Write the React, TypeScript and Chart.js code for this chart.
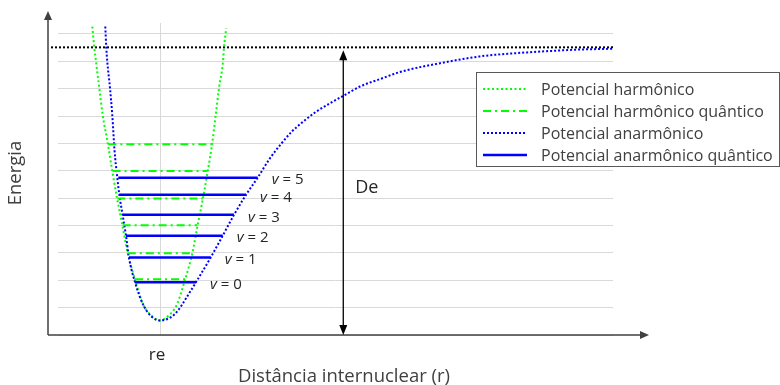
import React, { useEffect, useRef } from 'react';
import { Chart, registerables } from 'chart.js';

Chart.register(...registerables);

// ---- Data (arbitrary units) ----
// Harmonic potential (green dotted)
const harmonicX = [0.618, 0.654, 0.685, 0.744, 0.805, 0.900, 0.978, 1.065, 1.160, 1.255, 1.385, 1.537, 1.688, 1.838, 1.988, 2.139, 2.291, 2.421, 2.516, 2.611, 2.698, 2.776, 2.842, 2.901, 2.973, 2.991, 3.032];
const harmonicY = [11.27, 10.50, 9.99, 9.02, 8.04, 6.97, 5.99, 4.99, 4.01, 2.99, 2.04, 1.10, 0.70, 0.53, 0.70, 1.10, 2.04, 2.99, 4.01, 4.99, 5.99, 6.97, 8.04, 9.02, 9.99, 10.50, 11.21];

// Harmonic quantum levels (green dash-dot)
const harmonicLevelY = [2.04, 2.99, 4.01, 4.99, 5.99, 6.97];
const harmonicLevelLeft = [1.388, 1.258, 1.165, 1.070, 0.983, 0.907];
const harmonicLevelRight = [2.288, 2.418, 2.511, 2.606, 2.693, 2.769];

// Anharmonic (Morse) potential (blue dotted)
const morseX = [0.852, 0.870, 0.888, 0.937, 0.978, 1.018, 1.068, 1.105, 1.166, 1.225, 1.279, 1.387, 1.537, 1.688, 1.838, 2.049, 2.168, 2.288, 2.486, 2.751, 2.968, 3.171, 3.387, 3.598, 3.820, 4.031, 4.211, 4.420, 4.631, 4.901, 5.141, 5.441, 5.802, 6.162, 6.883, 7.604, 8.204, 8.805, 9.405, 10.0];
const morseY = [11.27, 10.50, 9.99, 9.02, 8.04, 6.76, 5.75, 5.12, 4.37, 3.63, 2.83, 1.93, 1.10, 0.67, 0.53, 0.67, 0.91, 1.28, 1.93, 2.83, 3.63, 4.39, 5.12, 5.75, 6.46, 7.01, 7.43, 7.80, 8.13, 8.47, 8.74, 9.08, 9.35, 9.61, 9.93, 10.18, 10.29, 10.37, 10.43, 10.46];

// Anharmonic quantum levels (blue solid)
const morseLevelY = [1.93, 2.83, 3.63, 4.39, 5.12, 5.75];
const morseLevelLeft = [1.387, 1.279, 1.225, 1.166, 1.105, 1.086];
const morseLevelRight = [2.486, 2.751, 2.968, 3.171, 3.387, 3.598];
const levelNumbers = ['0', '1', '2', '3', '4', '5'];

// Dissociation limit (black dotted)
const dissociationX = [-0.126, 10.0];
const dissociationY = 10.51;

const reValue = 1.838;
const deArrowX = 5.14;
const yTicks = [0, 1, 2, 3, 4, 5, 6, 7, 8, 9, 10, 11];

const seriesLabels = [
  'Potencial harmônico',
  'Potencial harmônico quântico',
  'Potencial anarmônico',
  'Potencial anarmônico quântico',
];

const GREEN = '#00ff00';
const BLUE = '#0000ff';
const FONT = '"Open Sans", "DejaVu Sans", sans-serif';

function toPoints(xs: number[], ys: number[]) {
  return xs.map((x, i) => ({ x, y: ys[i] }));
}

function toSegments(lefts: number[], rights: number[], ys: number[]) {
  const out: { x: number; y: number | null }[] = [];
  ys.forEach((y, i) => {
    out.push({ x: lefts[i], y }, { x: rights[i], y }, { x: rights[i], y: null });
  });
  return out;
}

function arrowHead(ctx: CanvasRenderingContext2D, tipX: number, tipY: number, dir: 'up' | 'down' | 'right', len = 9, half = 4) {
  ctx.beginPath();
  ctx.moveTo(tipX, tipY);
  if (dir === 'up') {
    ctx.lineTo(tipX - half, tipY + len);
    ctx.lineTo(tipX + half, tipY + len);
  } else if (dir === 'down') {
    ctx.lineTo(tipX - half, tipY - len);
    ctx.lineTo(tipX + half, tipY - len);
  } else {
    ctx.lineTo(tipX - len, tipY - half);
    ctx.lineTo(tipX - len, tipY + half);
  }
  ctx.closePath();
  ctx.fill();
}

const overlayPlugin = {
  id: 'overlay',
  afterDatasetsDraw(chart: any) {
    const { ctx, chartArea } = chart;
    const xs = chart.scales.x;
    const ys = chart.scales.y;
    ctx.save();

    // Axes with arrows
    const axisX = chartArea.left - 10;
    const axisY = ys.getPixelForValue(0);
    ctx.strokeStyle = '#404040';
    ctx.fillStyle = '#404040';
    ctx.lineWidth = 1.5;
    ctx.setLineDash([]);
    ctx.beginPath();
    ctx.moveTo(axisX, axisY);
    ctx.lineTo(axisX, 18);
    ctx.stroke();
    arrowHead(ctx, axisX, 11, 'up');
    ctx.beginPath();
    ctx.moveTo(axisX, axisY);
    ctx.lineTo(642, axisY);
    ctx.stroke();
    arrowHead(ctx, 649, axisY, 'right');

    // De double arrow
    const dx = xs.getPixelForValue(deArrowX);
    const topY = ys.getPixelForValue(dissociationY) + 3;
    ctx.strokeStyle = '#000';
    ctx.fillStyle = '#000';
    ctx.lineWidth = 1.3;
    ctx.beginPath();
    ctx.moveTo(dx, topY + 6);
    ctx.lineTo(dx, axisY - 6);
    ctx.stroke();
    arrowHead(ctx, dx, topY, 'up', 10, 4);
    arrowHead(ctx, dx, axisY, 'down', 10, 4);

    // Level labels v = n
    ctx.fillStyle = '#262626';
    ctx.textBaseline = 'middle';
    ctx.textAlign = 'left';
    morseLevelY.forEach((yv, i) => {
      const px = xs.getPixelForValue(morseLevelRight[i]) + 14;
      const py = ys.getPixelForValue(yv) + 2.5;
      ctx.font = `italic 15px ${FONT}`;
      ctx.fillText('v', px, py);
      const w = ctx.measureText('v').width;
      ctx.font = `15px ${FONT}`;
      ctx.fillText(' = ' + levelNumbers[i], px + w, py);
    });

    // De label
    ctx.font = `18px ${FONT}`;
    ctx.fillStyle = '#262626';
    ctx.fillText('De', dx + 12, 188);

    // re label
    ctx.textAlign = 'center';
    ctx.font = `17px ${FONT}`;
    ctx.fillText('re', xs.getPixelForValue(reValue) - 3, 355);

    // Axis titles
    ctx.fillStyle = '#404040';
    ctx.font = `18.5px ${FONT}`;
    ctx.fillText('Distância internuclear (r)', 344, 377);
    ctx.save();
    ctx.translate(16, 173);
    ctx.rotate(-Math.PI / 2);
    ctx.font = `18.5px ${FONT}`;
    ctx.fillText('Energia', 0, 0);
    ctx.restore();

    // Legend
    const bx = 476.5, by = 72.5, bw = 303, bh = 94;
    ctx.fillStyle = '#ffffff';
    ctx.fillRect(bx, by, bw, bh);
    ctx.strokeStyle = '#595959';
    ctx.lineWidth = 1;
    ctx.setLineDash([]);
    ctx.strokeRect(bx, by, bw, bh);
    const rows = [89, 111, 133, 155];
    ctx.textAlign = 'left';
    ctx.textBaseline = 'middle';
    for (let i = 0; i < 4; i++) {
      const ds = chart.data.datasets[i];
      ctx.strokeStyle = ds.borderColor;
      ctx.lineWidth = ds.borderWidth;
      ctx.setLineDash(ds.borderDash || []);
      ctx.beginPath();
      ctx.moveTo(483, rows[i]);
      ctx.lineTo(527, rows[i]);
      ctx.stroke();
      ctx.setLineDash([]);
      ctx.fillStyle = '#404040';
      ctx.font = `16px ${FONT}`;
      ctx.fillText(ds.label, 541, rows[i] + 1);
    }
    ctx.restore();
  },
};

export default function App() {
  const canvasRef = useRef<HTMLCanvasElement | null>(null);

  useEffect(() => {
    if (!canvasRef.current) return;
    const chart = new Chart(canvasRef.current, {
      type: 'line',
      data: {
        datasets: [
          {
            label: seriesLabels[0],
            data: toPoints(harmonicX, harmonicY),
            borderColor: GREEN,
            borderWidth: 2,
            borderDash: [2, 2.5],
            pointRadius: 0,
            cubicInterpolationMode: 'monotone',
            clip: false,
            order: 3,
          },
          {
            label: seriesLabels[1],
            data: toSegments(harmonicLevelLeft, harmonicLevelRight, harmonicLevelY),
            borderColor: GREEN,
            borderWidth: 2,
            borderDash: [8, 4, 2, 4],
            pointRadius: 0,
            tension: 0,
            spanGaps: false,
            order: 1,
          },
          {
            label: seriesLabels[2],
            data: toPoints(morseX, morseY),
            borderColor: BLUE,
            borderWidth: 2,
            borderDash: [2, 2],
            pointRadius: 0,
            cubicInterpolationMode: 'monotone',
            clip: false,
            order: 2,
          },
          {
            label: seriesLabels[3],
            data: toSegments(morseLevelLeft, morseLevelRight, morseLevelY),
            borderColor: BLUE,
            borderWidth: 2.5,
            pointRadius: 0,
            tension: 0,
            spanGaps: false,
            order: 0,
          },
          {
            label: '',
            data: dissociationX.map((x) => ({ x, y: dissociationY })),
            borderColor: '#000000',
            borderWidth: 2,
            borderDash: [2, 2],
            pointRadius: 0,
            tension: 0,
            clip: false,
            order: 4,
          },
        ] as any,
      },
      options: {
        animation: false,
        responsive: false,
        events: [],
        layout: { padding: { left: 58, right: 167, top: 23, bottom: 50 } },
        plugins: { legend: { display: false }, tooltip: { enabled: false } },
        scales: {
          x: {
            type: 'linear',
            min: 0,
            max: 10,
            afterBuildTicks: (scale: any) => {
              scale.ticks = [{ value: reValue }];
            },
            ticks: { display: false },
            grid: { color: '#d9d9d9', lineWidth: 1, drawTicks: false },
            border: { display: false },
          },
          y: {
            type: 'linear',
            min: 0,
            max: 11.4,
            afterBuildTicks: (scale: any) => {
              scale.ticks = yTicks.map((v) => ({ value: v }));
            },
            ticks: { display: false },
            grid: { color: '#d9d9d9', lineWidth: 1, drawTicks: false },
            border: { display: false },
          },
        },
      } as any,
      plugins: [overlayPlugin],
    });
    return () => chart.destroy();
  }, []);

  return (
    <div style={{ position: 'absolute', left: 0, top: 0, width: 780, height: 385, background: '#fff' }}>
      <canvas ref={canvasRef} width={780} height={385} style={{ width: 780, height: 385 }} />
    </div>
  );
}
